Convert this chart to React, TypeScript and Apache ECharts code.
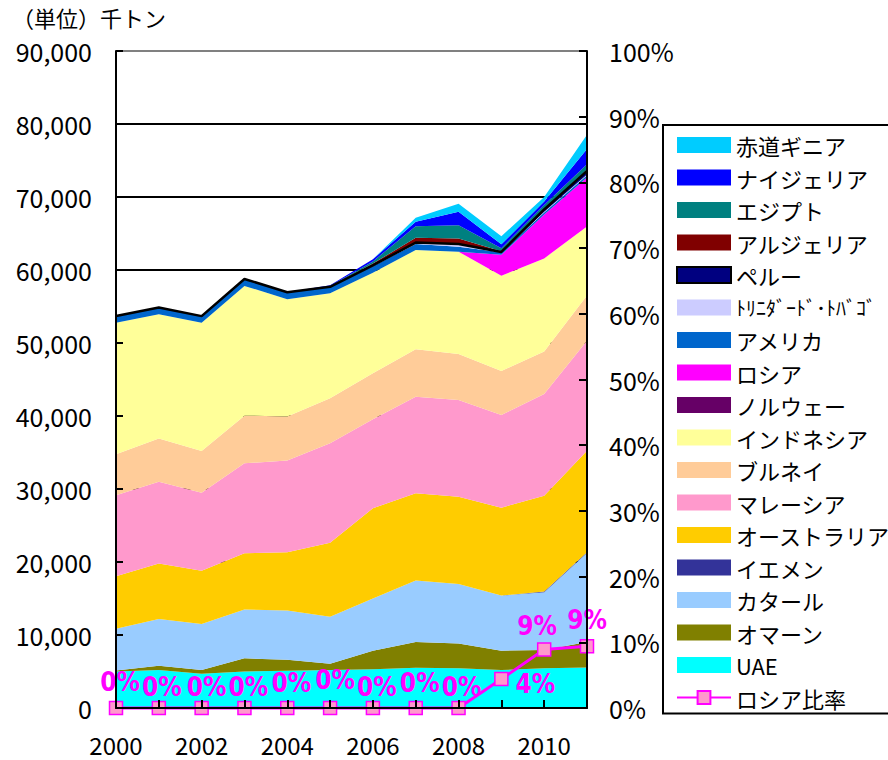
import React, { useEffect, useRef } from "react";
import * as echarts from "echarts";

const years = ["2000", "2001", "2002", "2003", "2004", "2005", "2006", "2007", "2008", "2009", "2010", "2011"];

// 千トン (bottom of stack first)
const uae = [5000, 5200, 4700, 5000, 5100, 5200, 5300, 5500, 5450, 5200, 5450, 5550];
const oman = [150, 600, 500, 1800, 1500, 850, 2550, 3550, 3400, 2650, 2500, 3500];
const qatar = [5700, 6400, 6300, 6700, 6750, 6450, 7150, 8400, 8150, 7550, 7900, 12200];
const yemen = [0, 0, 0, 0, 0, 0, 0, 0, 0, 0, 100, 100];
const australia = [7200, 7600, 7300, 7700, 8000, 10150, 12360, 11960, 11950, 12040, 13130, 13890];
const malaysia = [11100, 11180, 10680, 12330, 12550, 13610, 12190, 13240, 13240, 12700, 13930, 15070];
const brunei = [5620, 5950, 5720, 6520, 6030, 6170, 6300, 6490, 6310, 6030, 5840, 6190];
const indonesia = [17990, 17020, 17580, 17770, 16080, 14370, 13780, 13600, 14010, 13050, 12740, 9470];
const norway = [0, 0, 0, 0, 0, 0, 0, 0, 0, 0, 0, 0];
const russia = [0, 0, 0, 0, 0, 0, 0, 0, 0, 2880, 6000, 6700];
const usa = [950, 900, 900, 950, 950, 900, 900, 820, 680, 320, 300, 300];
const trinidad = [0, 0, 0, 0, 0, 0, 100, 200, 370, 50, 100, 100];
const peru = [0, 0, 0, 0, 0, 0, 0, 0, 0, 0, 300, 500];
const algeria = [0, 0, 0, 0, 0, 50, 250, 650, 750, 100, 100, 200];
const egypt = [0, 0, 0, 0, 0, 50, 300, 1600, 1830, 400, 500, 700];
const nigeria = [0, 0, 0, 0, 0, 100, 300, 600, 1830, 550, 500, 2100];
const eqGuinea = [0, 0, 0, 0, 0, 0, 0, 550, 1100, 1100, 600, 1950];

// ロシア比率 (%)
const russiaRatio = [0, 0, 0, 0, 0, 0, 0, 0, 0, 4.4, 8.9, 9.4];

const leftTicks = [0, 10000, 20000, 30000, 40000, 50000, 60000, 70000, 80000, 90000];

// label offsets (px) for ratio labels
const ratioLabelOffsets = [
  [4, -26], [3, -21], [5, -21], [4, -21], [4, -25], [5, -28],
  [4, -21], [4, -25], [3, -21], [34, 5], [-7, -24], [0, -26],
];

const FONT = "'Noto Sans CJK JP', 'Noto Sans', sans-serif";
const NARROW = "'Liberation Sans Narrow', 'DejaVu Sans Condensed', 'Noto Sans', sans-serif";
const TT = "ﾄﾘﾆﾀﾞｰﾄﾞ･ﾄﾊﾞｺﾞ";

const stackDefs = [
  { name: "UAE", data: uae, color: "#00FFFF" },
  { name: "オマーン", data: oman, color: "#808000" },
  { name: "カタール", data: qatar, color: "#99CCFF" },
  { name: "イエメン", data: yemen, color: "#333399" },
  { name: "オーストラリア", data: australia, color: "#FFCC00" },
  { name: "マレーシア", data: malaysia, color: "#FF99CC" },
  { name: "ブルネイ", data: brunei, color: "#FFCC99" },
  { name: "インドネシア", data: indonesia, color: "#FFFF99" },
  { name: "ノルウェー", data: norway, color: "#660066" },
  { name: "ロシア", data: russia, color: "#FF00FF" },
  { name: "アメリカ", data: usa, color: "#0066CC" },
  { name: TT, data: trinidad, color: "#CCCCFF" },
  { name: "ペルー", data: peru, color: "#000080", border: true },
  { name: "アルジェリア", data: algeria, color: "#800000" },
  { name: "エジプト", data: egypt, color: "#008080" },
  { name: "ナイジェリア", data: nigeria, color: "#0000FF" },
  { name: "赤道ギニア", data: eqGuinea, color: "#00CCFF" },
];

export default function App() {
  const ref = useRef<HTMLDivElement>(null);

  useEffect(() => {
    if (!ref.current) return;
    const chart = echarts.init(ref.current, null, { renderer: "svg" });

    const areaSeries = stackDefs.map((d) => ({
      type: "line",
      name: d.name,
      data: d.data,
      stack: "total",
      symbol: "none",
      showSymbol: false,
      itemStyle: { color: d.color },
      lineStyle: d.border ? { width: 2.5, color: "#000" } : { width: 0, opacity: 0 },
      areaStyle: { color: d.color, opacity: 1 },
      emphasis: { disabled: true },
      z: 2,
    }));

    const ratioSeries = {
      type: "line",
      name: "ロシア比率",
      yAxisIndex: 1,
      clip: false,
      symbol: "rect",
      symbolSize: 13,
      itemStyle: { color: "#FF99CC", borderColor: "#FF00FF", borderWidth: 1.5 },
      lineStyle: { color: "#FF00FF", width: 3 },
      z: 10,
      emphasis: { disabled: true },
      data: russiaRatio.map((v, i) => ({
        value: v,
        label: {
          show: true,
          position: "inside",
          offset: ratioLabelOffsets[i],
          formatter: (p: any) => Math.round(p.value) + "%",
          color: "#FF00FF",
          fontWeight: "bold",
          fontSize: 26,
          fontFamily: NARROW,
        },
      })),
    };

    const legendData = [...stackDefs]
      .reverse()
      .map((d) => ({
        name: d.name,
        icon: "rect",
        itemStyle: d.border
          ? { color: d.color, borderColor: "#000", borderWidth: 2 }
          : { color: d.color, borderWidth: 0 },
      }))
      .concat([{ name: "ロシア比率" } as any]);

    const splitColors = leftTicks.map((t, i) => (i === leftTicks.length - 1 ? "#808080" : "#000"));

    chart.setOption({
      animation: false,
      backgroundColor: "#fff",
      textStyle: { fontFamily: FONT },
      graphic: [
        {
          type: "text",
          left: 12,
          top: 6,
          style: { text: "（単位）千トン", fontSize: 22, fontFamily: FONT, fill: "#000" },
        },
      ],
      grid: { left: 116, right: 301, top: 51, bottom: 52, containLabel: false },
      legend: {
        orient: "vertical",
        left: 663,
        top: 125,
        padding: [9, 80, 5, 13],
        itemWidth: 54,
        itemHeight: 16,
        itemGap: 10.5,
        borderColor: "#000",
        borderWidth: 2,
        selectedMode: false,
        formatter: (name: string) => (name === TT ? `{n|${name}}` : name),
        textStyle: {
          fontSize: 22,
          fontFamily: FONT,
          color: "#000",
          lineHeight: 22,
          rich: { n: { fontSize: 20, fontFamily: FONT, color: "#000", lineHeight: 22 } },
        },
        data: legendData,
      },
      xAxis: {
        type: "category",
        boundaryGap: false,
        data: years,
        axisLine: { show: true, lineStyle: { color: "#000", width: 2 } },
        axisTick: { show: true, inside: true, interval: 0, length: 8, lineStyle: { color: "#000", width: 2 } },
        axisLabel: { interval: 1, fontSize: 24, color: "#000", margin: 24, fontFamily: FONT },
        splitLine: { show: false },
        z: 20,
      },
      yAxis: [
        {
          type: "value",
          min: 0,
          max: 90000,
          interval: 10000,
          axisLine: { show: true, lineStyle: { color: "#000", width: 2 } },
          axisTick: { show: true, inside: true, length: 7, lineStyle: { color: "#000", width: 2 } },
          axisLabel: {
            fontSize: 25,
            color: "#000",
            margin: 24,
            fontFamily: FONT,
            formatter: (v: number) => v.toLocaleString("en-US"),
          },
          splitLine: { show: false },
          z: 20,
        },
        {
          type: "value",
          min: 0,
          max: 100,
          interval: 10,
          position: "right",
          axisLine: { show: true, lineStyle: { color: "#000", width: 2 } },
          axisTick: { show: true, inside: true, length: 8, lineStyle: { color: "#000", width: 2 } },
          axisLabel: { fontSize: 25, color: "#000", margin: 22, fontFamily: FONT, formatter: "{value}%" },
          splitLine: { show: false },
          z: 20,
        },
        {
          type: "value",
          min: 0,
          max: 90000,
          interval: 10000,
          position: "left",
          axisLine: { show: false },
          axisTick: { show: false },
          axisLabel: { show: false },
          splitLine: { show: true, lineStyle: { color: splitColors, width: 2 } },
          z: 0,
        },
      ],
      series: [...areaSeries, ratioSeries],
    });

    return () => chart.dispose();
  }, []);

  return (
    <div
      ref={ref}
      style={{ position: "fixed", left: 0, top: 0, width: 888, height: 760, background: "#fff" }}
    />
  );
}
